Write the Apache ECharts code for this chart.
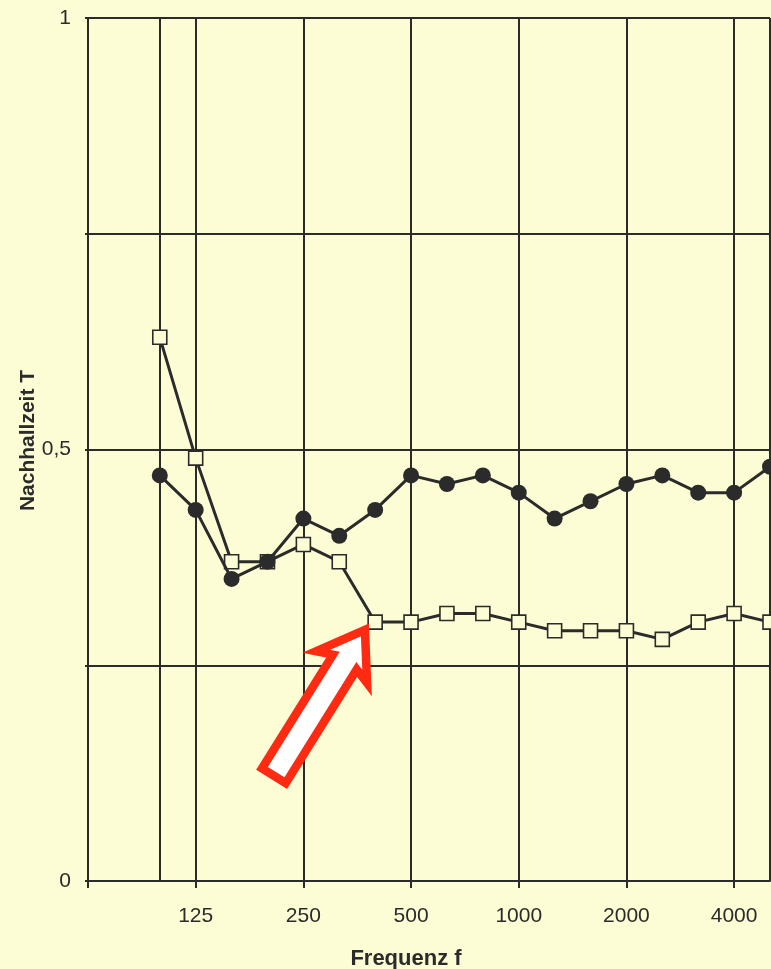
<!DOCTYPE html>
<html>
<head>
<meta charset="utf-8">
<script src="https://cdn.jsdelivr.net/npm/echarts@6/dist/echarts.min.js"></script>
<style>
  html, body { margin: 0; padding: 0; background: #fdfdd5; }
  #chart { width: 771px; height: 969px; }
</style>
</head>
<body>
<div id="chart"></div>
<script>
// Terzbaender (Hz)
const frequencies = ["63", "80", "100", "125", "160", "200", "250", "315", "400", "500",
  "630", "800", "1000", "1250", "1600", "2000", "2500", "3150", "4000", "5000"];
// beschriftete Frequenzen
const tickLabels = ["125", "250", "500", "1000", "2000", "4000"];
// Nachhallzeit, gefuellte Kreise
const seriesCircle = [null, null, 0.47, 0.43, 0.35, 0.37, 0.42, 0.40, 0.43, 0.47,
  0.46, 0.47, 0.45, 0.42, 0.44, 0.46, 0.47, 0.45, 0.45, 0.48];
// Nachhallzeit, offene Quadrate
const seriesSquare = [null, null, 0.63, 0.49, 0.37, 0.37, 0.39, 0.37, 0.30, 0.30,
  0.31, 0.31, 0.30, 0.29, 0.29, 0.29, 0.28, 0.30, 0.31, 0.30];
// Y-Achse
const yTicks = { 0: "0", 0.5: "0,5", 1: "1" };

const bg = "#fdfdd5";
const ink = "#2b2b2b";
const font = "Liberation Sans";

let myChart = echarts.init(document.getElementById("chart"));

// Linien bei 100 Hz, den Oktaven und am rechten Rand
const gridLineIdx = [2, 3, 6, 9, 12, 15, 18, 19];

let option = {
  backgroundColor: bg,
  animation: false,
  grid: { left: 88, top: 18, width: 682, height: 863, outerBoundsMode: "none" },
  xAxis: {
    type: "category",
    data: frequencies,
    boundaryGap: false,
    name: "Frequenz f",
    nameLocation: "middle",
    nameGap: 67,
    nameMoveOverlap: false,
    nameTextStyle: {
      fontFamily: font, fontWeight: "bold", fontSize: 22, color: ink,
      padding: [0, 46, 0, 0],
    },
    axisLine: { lineStyle: { color: ink, width: 2 } },
    axisTick: {
      length: 7,
      interval: (i) => i % 3 === 0 && i < 19,
      lineStyle: { color: ink, width: 2 },
    },
    axisLabel: {
      interval: 0,
      margin: 25,
      fontFamily: font,
      fontSize: 21,
      color: ink,
      formatter: (v) => (tickLabels.indexOf(v) >= 0 ? v : ""),
    },
    splitLine: {
      show: true,
      interval: (i) => gridLineIdx.indexOf(i) >= 0,
      lineStyle: { color: ink, width: 2 },
    },
  },
  yAxis: {
    type: "value",
    min: 0,
    max: 1,
    interval: 0.25,
    name: "Nachhallzeit T",
    nameLocation: "middle",
    nameGap: 49,
    nameMoveOverlap: false,
    nameTextStyle: {
      fontFamily: font, fontWeight: "bold", fontSize: 21, color: ink,
      padding: [0, 0, 0, 18],
    },
    axisLine: { show: true, lineStyle: { color: ink, width: 2 } },
    axisTick: { show: true, length: 3, lineStyle: { color: ink, width: 2 } },
    axisLabel: {
      margin: 17,
      fontFamily: font,
      fontSize: 21,
      color: ink,
      formatter: (v) => (yTicks[v] !== undefined ? yTicks[v] : ""),
    },
    splitLine: { show: true, lineStyle: { color: ink, width: 2 } },
  },
  series: [
    {
      name: "Quadrat",
      type: "line",
      data: seriesSquare,
      symbol: "rect",
      symbolSize: 14,
      z: 2,
      lineStyle: { color: ink, width: 3 },
      itemStyle: { color: bg, borderColor: ink, borderWidth: 1.6 },
    },
    {
      name: "Kreis",
      type: "line",
      data: seriesCircle,
      symbol: "circle",
      symbolSize: 16,
      z: 3,
      lineStyle: { color: ink, width: 3 },
      itemStyle: { color: ink, borderColor: ink, borderWidth: 0 },
    },
  ],
};
myChart.setOption(option);

// roter Pfeil auf den 400-Hz-Wert der Quadrat-Kurve
const idx = frequencies.indexOf("400");
const p = myChart.convertToPixel({ gridIndex: 0 }, [idx, seriesSquare[idx]]);
let dx = 98, dy = -157;
const len = Math.sqrt(dx * dx + dy * dy);
dx /= len; dy /= len;
const nx = -dy, ny = dx;
const tipX = p[0] - 6 - dx * 8, tipY = p[1] + 1 - dy * 8;
// lokale Form: entlang (a), quer (b)
const shape = [[0, 0], [-44, 30], [-38, 14], [-172, 14], [-172, -14], [-38, -14], [-44, -30]];
const pts = shape.map(([a, b]) => [tipX + dx * a + nx * b, tipY + dy * a + ny * b]);
myChart.setOption({
  graphic: [{
    type: "polygon",
    shape: { points: pts },
    style: { fill: "#ffffff", stroke: "#ff2a12", lineWidth: 8.5, lineJoin: "miter" },
    z: 100,
  }],
});
</script>
</body>
</html>
